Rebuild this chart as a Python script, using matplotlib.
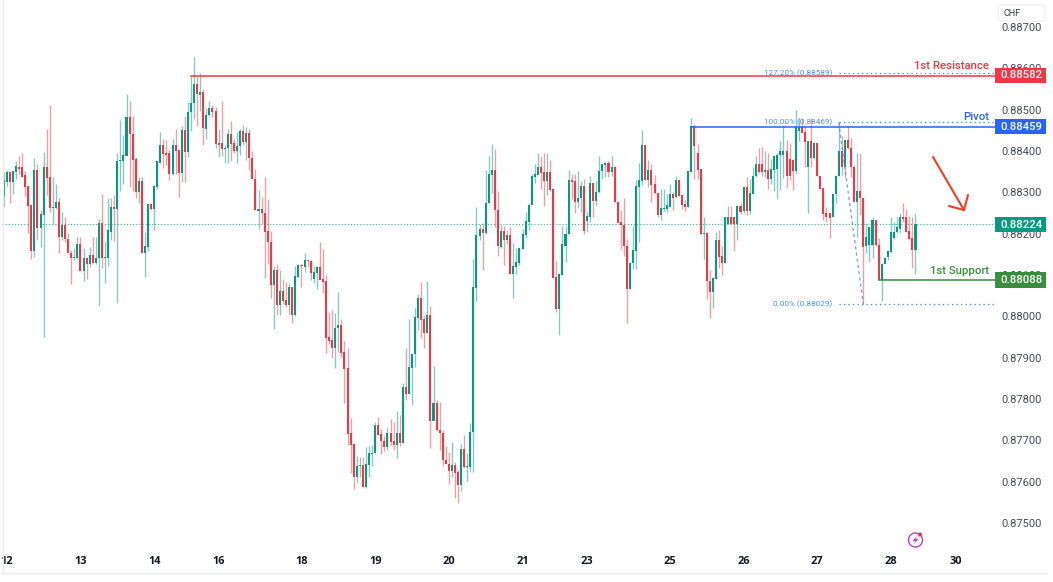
import matplotlib
matplotlib.use("Agg")
import matplotlib.pyplot as plt
import numpy as np
from matplotlib.collections import LineCollection
from matplotlib.lines import Line2D
from matplotlib.patches import Circle, Polygon, FancyBboxPatch
from matplotlib.transforms import IdentityTransform

# price values in 1e-5 CHF
highs = [
88349,88355,88351,88352,88376,88388,88396,88352,88317,88271,
88382,88369,88258,88398,88453,88512,88336,88319,88285,88252,
88240,88202,88160,88165,88192,88192,88166,88143,88168,88192,
88192,88236,88295,88180,88285,88285,88293,88394,88476,88438,
88539,88521,88484,88386,88336,88337,88203,88271,88271,88317,
88376,88447,88430,88426,88402,88428,88453,88402,88460,88484,
88519,88582,88629,88581,88589,88551,88504,88521,88511,88507,
88454,88520,88414,88454,88472,88428,88446,88452,88462,88457,
88452,88400,88357,88305,88289,88336,88283,88206,88121,88126,
88111,88091,88083,88081,88071,88121,88126,88126,88154,88139,
88135,88121,88121,88180,88162,88099,88010,88014,88007,88059,
87994,87939,87922,
87753,87690,87663,87660,87660,87684,87686,87689,87745,87756,
87726,87710,87730,87751,87743,87771,87760,87838,87923,87994,
87909,88021,88053,88084,88003,88086,88025,87880,87797,87793,
87725,87687,87672,87695,87648,87628,87691,87713,87668,87741,
88139,
88265,88224,88226,88355,88387,88418,88404,88303,88220,88218,
88208,88215,88178,88164,88164,88212,88253,88274,88344,88368,
88394,88387,88394,88394,88378,88309,88133,88103,88218,88218,
88355,88345,88344,88352,88328,88333,88253,88339,88323,88328,
88387,88368,88374,88375,88388,88363,88277,88257,88287,88188,
88132,88218,88329,88372,88450,88414,88379,88368,88341,88301,
88307,88309,88297,88320,88301,88339,88329,88293,88281,88352,
88479,88465,88416,88356,
88241,88203,88112,88094,88203,88209,88169,88241,88267,88266,
88241,88270,88274,88314,88338,88332,88362,88388,88407,88409,
88399,88395,88380,88391,88395,88423,88463,88427,88419,88380,
88498,88479,88479,88463,88423,88479,88420,88419,88340,88310,
88264,88251,88296,88342,88471,88437,88427,88463,88431,88366,
88395,88395,88286,88225,88216,88241,88232,88189,88128,88140,
88161,88240,88229,88241,88251,88274,88259,88243,88241,88251,
]
lows = [
88265,88315,88273,88295,88333,88344,88337,88290,88202,88139,
88143,88184,88168,87950,88293,88252,88223,88260,88154,88184,
88180,88154,88079,88137,88139,88110,88085,88089,88119,88126,
88127,88024,88116,88081,88121,88184,88182,88032,88303,88319,
88390,88313,88303,88285,88274,88154,88095,88158,88256,88208,
88309,88373,88358,88365,88329,88343,88345,88289,88325,88325,
88386,88448,88477,88460,88497,88414,88428,88484,88481,88406,
88386,88388,88371,88372,88375,88394,88371,88390,88415,88379,
88355,88331,88256,88210,88224,88093,88127,88043,87968,88004,
88004,88030,88022,88005,87984,88000,88093,88072,88107,88119,
88087,88081,88067,88089,88056,87910,87934,87898,87874,87913,
87901,87789,87688,
87620,87581,87596,87612,87586,87584,87610,87638,87668,87713,
87666,87675,87676,87689,87676,87656,87686,87693,87797,87814,
87785,87877,87967,87947,87924,87960,87682,87749,87723,87676,
87638,87642,87594,87612,87561,87547,87578,87632,87602,87624,
87624,
88037,88184,88111,88200,88273,88299,88215,88145,88165,88124,
88174,88103,88043,88103,88124,88163,88191,88208,88269,88323,
88344,88309,88266,88293,88303,88094,88011,87954,88099,88132,
88198,88283,88249,88261,88253,88200,88204,88228,88241,88266,
88299,88333,88337,88336,88339,88277,88226,88162,88145,87984,
88065,88115,88115,88180,88317,88329,88312,88277,88295,88241,
88233,88254,88253,88265,88258,88287,88291,88259,88255,88265,
88349,88331,88333,88199,
88138,88041,87995,88019,88090,88116,88100,88130,88224,88224,
88157,88185,88248,88251,88245,88248,88298,88338,88346,88340,
88337,88308,88320,88302,88283,88306,88334,88310,88330,88306,
88345,88425,88443,88362,88249,88362,88380,88340,88307,88232,
88229,88190,88239,88274,88340,88342,88338,88404,88337,88278,
88193,88245,88032,88153,88132,88140,88169,88088,88036,88128,
88136,88153,88186,88201,88201,88229,88205,88185,88116,88103,
]
body_tops = [
88329,88349,88349,88351,88363,88361,88360,88341,88315,88270,
88353,88353,88248,88361,88361,88336,88265,88277,88277,88220,
88220,88188,88153,88143,88174,88174,88142,88142,88148,88148,
88142,88226,88226,88143,88208,88265,88265,88376,88379,88391,
88482,88482,88442,88380,88327,88327,88169,88271,88271,88315,
88376,88414,88414,88394,88394,88415,88415,88402,88450,88450,
88495,88516,88561,88561,88543,88543,88488,88504,88504,88496,
88419,88419,88408,88442,88442,88419,88412,88448,88448,88444,
88444,88383,88332,88260,88259,88250,88206,88180,88111,88111,
88061,88061,88040,88071,88071,88097,88123,88125,88137,88137,
88134,88107,88119,88119,88091,88085,87951,87942,87972,87980,
87980,87913,87874,
87718,87690,87638,87640,87640,87643,87670,87670,87737,87737,
87714,87699,87718,87718,87697,87717,87717,87828,87828,87876,
87909,87998,88045,88045,87993,88003,88003,87789,87789,87725,
87718,87652,87643,87640,87640,87622,87679,87679,87638,87720,
88070,
88196,88212,88212,88275,88344,88355,88355,88258,88206,88206,
88196,88196,88121,88132,88164,88198,88230,88270,88339,88345,
88362,88362,88349,88349,88349,88307,88094,88103,88174,88199,
88329,88329,88327,88287,88315,88315,88242,88323,88323,88301,
88352,88368,88372,88372,88360,88362,88277,88228,88222,88170,
88130,88160,88315,88329,88414,88414,88355,88355,88319,88299,
88263,88263,88269,88295,88297,88329,88329,88293,88271,88351,
88460,88460,88394,88356,
88201,88201,88086,88092,88185,88185,88145,88241,88241,88241,
88241,88266,88266,88314,88314,88298,88340,88369,88369,88369,
88354,88354,88356,88388,88391,88399,88399,88400,88380,88377,
88459,88459,88457,88445,88423,88423,88419,88419,88340,88310,
88249,88249,88296,88340,88399,88399,88427,88427,88407,88362,
88303,88303,88286,88193,88216,88232,88232,88173,88127,88140,
88157,88205,88205,88217,88241,88241,88241,88207,88189,88224,
]
body_bottoms = [
88293,88327,88327,88327,88349,88357,88339,88313,88269,88158,
88158,88214,88214,88247,88336,88262,88262,88262,88192,88192,
88188,88153,88141,88141,88142,88110,88110,88127,88127,88129,
88129,88142,88142,88142,88142,88206,88260,88260,88376,88377,
88390,88442,88380,88301,88301,88154,88154,88168,88260,88260,
88313,88373,88394,88391,88345,88345,88402,88348,88348,88399,
88399,88495,88516,88539,88537,88456,88454,88488,88495,88418,
88416,88406,88406,88408,88418,88400,88400,88412,88422,88422,
88383,88332,88258,88256,88250,88206,88180,88077,88077,88029,
88029,88039,88029,88029,88004,88004,88095,88123,88121,88134,
88105,88091,88105,88089,88083,87949,87942,87925,87925,87972,
87913,87874,87717,
87689,87612,87612,87638,87588,87588,87640,87668,87670,87714,
87699,87685,87685,87697,87689,87689,87694,87694,87812,87812,
87876,87909,87997,87991,87960,87960,87747,87747,87725,87718,
87652,87643,87626,87626,87622,87592,87592,87636,87635,87636,
87720,
88070,88196,88202,88202,88274,88344,88257,88170,88168,88186,
88186,88103,88103,88121,88130,88164,88198,88228,88270,88339,
88344,88347,88328,88328,88307,88094,88019,88019,88102,88172,
88199,88325,88277,88277,88287,88208,88231,88241,88279,88279,
88301,88352,88366,88349,88349,88277,88226,88222,88170,88067,
88067,88130,88160,88315,88329,88331,88331,88319,88299,88247,
88247,88261,88261,88266,88287,88289,88291,88271,88265,88266,
88351,88414,88355,88199,
88199,88086,88060,88060,88092,88145,88130,88130,88225,88225,
88224,88224,88253,88256,88256,88256,88298,88340,88350,88350,
88350,88334,88334,88356,88358,88391,88391,88340,88340,88352,
88352,88450,88445,88423,88361,88383,88383,88340,88310,88249,
88241,88239,88240,88296,88340,88362,88362,88407,88361,88278,
88278,88286,88169,88170,88173,88173,88173,88088,88088,88127,
88144,88157,88190,88205,88211,88237,88205,88189,88162,88162,
]
direction = (
"GGRGGRRRRR" "GRGGRRGGRG" "RRRGGRGRGR" "GGRGGGRGGG" "GRRRGRGGRG" "GGRRRGRRGR"
"GGGRGRGGRR" "GRGGRRGGRG" "RRRGRRRRGR" "GRRGRGGRGR" "RGGRRRRRGG" "RRR"
"RRGGRGGGGR" "RRGRRGRGRG" "GGGRRGRGRR" "RRRGRRGRGG" "G"
"GGRGGGRRGR" "GRGGGGGGGG" "GRRGRRRGGG" "GRRGGRGGRG" "GGGRGRRRRR" "GGGGGRGRRR"
"GGGGRGRRRG" "GRRR"
"GRRGGRRGGR" "RGRGRGGGRR" "GRGGGGGRRR" "GGRRGRGRRR" "RRGGGRGRRR" "GRRGGGRRGG"
"GGGGGRRRRG"
)
# axis labels: bar index of each day label
day_labels = ["12","13","14","16","18","19","20","21","23","25","26","27","28","30"]
day_bars = [1,25,49,70,97,121,145,169,190,217,241,265,289,310]
price_ticks = [88700,88600,88500,88400,88300,88200,88100,88000,87900,87800,87700,87600,87500]

resistance, pivot, last_price, support = 88582, 88459, 88224, 88088
fib_levels = [(88589, "127.20% (0.88589)"), (88469, "100.00% (0.88469)"), (88029, "0.00% (0.88029)")]
level_start_bars = {"resistance": 61, "pivot": 224, "support": 285, "fib": 272, "fib_end": 280}

GREEN, RED, BLUE, DGREEN, FIB = "#089981", "#F23645", "#2962FF", "#388E3C", "#4C8FF0"
W, H = 1053, 582
PX0, PXSTEP = 3.7, 3.07           # bar 0 position, bar spacing
YREF, YSCALE = 27.0, 1 / 2.42      # pixel row of 0.88700, px per 1e-5

def bar_of(px): return (px - PX0) / PXSTEP
def price_of(py): return 88700 - (py - YREF) / YSCALE

plt.rcParams["font.family"] = ["Roboto", "DejaVu Sans"]
fig = plt.figure(figsize=(W / 100, H / 100), dpi=100, facecolor="white")
L, R, B_PX = 2, 996, 552
ax = fig.add_axes([L / W, 1 - B_PX / H, (R - L) / W, B_PX / H])
ax.set_xlim(bar_of(L), bar_of(R))
ax.set_ylim(price_of(B_PX), price_of(0))
for s in ax.spines.values():
    s.set_visible(False)

n = len(highs)
assert n == len(lows) == len(body_tops) == len(body_bottoms) == len(direction), (n, len(lows), len(body_tops), len(body_bottoms), len(direction))
xs = np.arange(n)
cols = [GREEN if d == "G" else RED for d in direction]
wicks = [[(i, lows[i]), (i, highs[i])] for i in xs]
ax.add_collection(LineCollection(wicks, colors=cols, linewidths=0.95, alpha=0.5, zorder=3))
ax.bar(xs, np.array(body_tops) - np.array(body_bottoms), bottom=body_bottoms, width=0.66,
       color=cols, linewidth=0, zorder=3.2)
ax.bar(xs, [3] * n, bottom=np.array(body_bottoms) - 1, width=0.66, color=cols, linewidth=0, zorder=3.2)

# levels
xmax = ax.get_xlim()[1]
ax.plot([level_start_bars["resistance"], xmax], [resistance] * 2, color=RED, lw=1.1, zorder=4)
ax.plot([level_start_bars["pivot"], xmax], [pivot] * 2, color=BLUE, lw=1.1, zorder=4)
ax.plot([level_start_bars["support"], xmax], [support] * 2, color=DGREEN, lw=1.1, zorder=4)
ax.plot(ax.get_xlim(), [last_price] * 2, color=GREEN, lw=0.8, ls=(0, (1, 1.8)), alpha=0.8, zorder=2)

# fibonacci
for val, lab in fib_levels:
    ax.plot([level_start_bars["fib"], xmax], [val] * 2, color="#2962FF", lw=0.9, ls=(0, (1, 2.6)), alpha=0.85, zorder=4)
    ax.text(bar_of(832.5), val, lab, color=FIB, fontsize=5.9, ha="right", va="center", zorder=6)
ax.plot([level_start_bars["fib"], level_start_bars["fib_end"]], [fib_levels[1][0], fib_levels[2][0]],
        color=FIB, lw=0.9, ls=(0, (2.5, 2.5)), alpha=0.85, zorder=4)

# text labels over levels
for txt, py, col in [("1st Resistance", 66, RED), ("Pivot", 116.5, BLUE), ("1st Support", 271, DGREEN)]:
    ax.text(bar_of(989), price_of(py), txt, color=col, fontsize=8.2, fontweight="medium",
            ha="right", va="center", zorder=6)

# axes ticks
ax.yaxis.tick_right()
ax.set_yticks(price_ticks)
ax.set_yticklabels([f"{p / 1e5:.5f}" for p in price_ticks], color="#444a55", fontsize=8.0)
ax.tick_params(axis="y", length=0, pad=4.2)
ax.set_xticks(day_bars)
ax.set_xticklabels(day_labels, color="#131722", fontsize=7.9, fontweight="bold", fontfamily=["Open Sans", "DejaVu Sans"])
ax.tick_params(axis="x", length=0, pad=3.0)

# price tags on the scale
for val, col, ptop, pbot in [(resistance, RED, 68, 83), (pivot, BLUE, 119, 134),
                             (last_price, GREEN, 217, 232), (support, DGREEN, 272, 288)]:
    ax.fill_between([bar_of(995), bar_of(1046)], price_of(pbot), price_of(ptop), color=col, lw=0, zorder=7, clip_on=False)
    ax.text(bar_of(1021), price_of((ptop + pbot) / 2), f"{val / 1e5:.5f}", color="white", fontsize=8.2,
            fontweight="medium", ha="center", va="center", zorder=8, clip_on=False)

# figure furniture in pixel coordinates
T = IdentityTransform()
def fy(py): return H - py
def pixline(xa, ya, xb, yb, **kw):
    fig.add_artist(Line2D([xa, xb], [fy(ya), fy(yb)], transform=T, **kw))

pixline(2.5, 0, 2.5, 573, color="#ececec", lw=1)
pixline(2, 573, 1047, 573, color="#ececec", lw=1)

fig.add_artist(FancyBboxPatch((998, fy(21)), 47, 16, boxstyle="round,pad=0,rounding_size=2.5", fc="white",
                              ec="#eeeeee", lw=0.8, transform=T, zorder=9))
fig.text(1003 / W, 1 - 13 / H, "CHF", color="#333a45", fontsize=6.5, va="center", ha="left", zorder=10)

ARROW = "#F63A2C"
pixline(933, 157, 964, 210, color=ARROW, lw=1.5, solid_capstyle="round")
pixline(964, 210, 949, 206, color=ARROW, lw=1.5, solid_capstyle="round")
pixline(964, 210, 968, 195, color=ARROW, lw=1.5, solid_capstyle="round")

fig.add_artist(Circle((915.5, fy(540)), 7, fc="white", ec="#B23FD0", lw=1.0, transform=T, zorder=9))
fig.add_artist(Polygon([(917.5, fy(535.5)), (912.5, fy(541)), (915.5, fy(541)), (913.5, fy(544.5)),
                        (918.5, fy(539)), (915.5, fy(539))], closed=True, fc="#B23FD0", ec="none", transform=T, zorder=10))
fig.add_artist(Circle((920, fy(534.5)), 2, fc="#F23645", ec="none", transform=T, zorder=11))

fig.savefig("out.png", dpi=100, facecolor="white")
